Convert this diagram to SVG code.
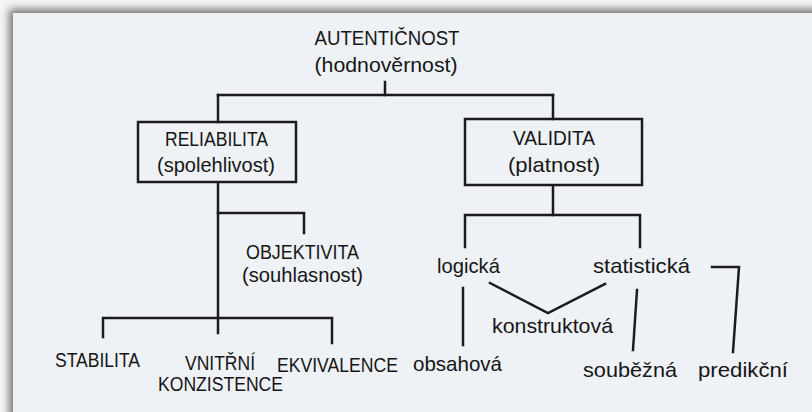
<svg xmlns="http://www.w3.org/2000/svg" width="812" height="412" viewBox="0 0 812 412">
<defs>
<filter id="sh" x="-10%" y="-10%" width="120%" height="120%"><feGaussianBlur stdDeviation="4"/></filter>
<style>
.t{font-family:"Liberation Sans",Arial,sans-serif;fill:#161616}
.c{font-size:19.5px}
.l{font-size:21px}
.m{text-anchor:middle}
.ln{fill:none;stroke:#1c1c1c;stroke-width:2.5;stroke-linecap:square;stroke-linejoin:miter}
.box{fill:none;stroke:#1c1c1c;stroke-width:2.5}
</style>
</defs>
<rect x="0" y="0" width="812" height="412" fill="#f6f6f6"/>
<rect x="9" y="9" width="820" height="420" fill="#555" opacity="0.8" filter="url(#sh)"/>
<rect x="13" y="13" width="810" height="410" fill="#eef1f5"/>
<g id="connectors">
<path class="ln" d="M385,82 V95"/>
<path class="ln" d="M218,95 H553"/>
<path class="ln" d="M218,95 V122"/>
<path class="ln" d="M553,95 V119"/>
<path class="ln" d="M218,183 V333"/>
<path class="ln" d="M218,213 H304 V233"/>
<path class="ln" d="M103,337 V318 H332 V343"/>
<path class="ln" d="M553,186 V215"/>
<path class="ln" d="M465,247 V215 H640 V247"/>
<path class="ln" d="M463,288 V345"/>
<path class="ln" d="M490,283 L548,313 L605,284"/>
<path class="ln" d="M637,290 L633,350"/>
<path class="ln" d="M712,267 H739 L733,352"/>
</g>
<g id="autenticnost">
<text class="t c m" x="387" y="45" textLength="145" lengthAdjust="spacingAndGlyphs">AUTENTIČNOST</text>
<text class="t l m" x="386" y="72" textLength="143" lengthAdjust="spacingAndGlyphs">(hodnověrnost)</text>
</g>
<g id="reliabilita">
<rect class="box" x="138" y="122" width="158" height="60"/>
<text class="t c m" x="216.5" y="146" textLength="103" lengthAdjust="spacingAndGlyphs">RELIABILITA</text>
<text class="t l m" x="216" y="172" textLength="118" lengthAdjust="spacingAndGlyphs">(spolehlivost)</text>
</g>
<g id="validita">
<rect class="box" x="465" y="119" width="177" height="66"/>
<text class="t c m" x="554" y="145" textLength="82" lengthAdjust="spacingAndGlyphs">VALIDITA</text>
<text class="t l m" x="554" y="172" textLength="92" lengthAdjust="spacingAndGlyphs">(platnost)</text>
</g>
<g id="objektivita">
<text class="t c m" x="302.5" y="259" textLength="113" lengthAdjust="spacingAndGlyphs">OBJEKTIVITA</text>
<text class="t l m" x="302.5" y="282" textLength="121" lengthAdjust="spacingAndGlyphs">(souhlasnost)</text>
</g>
<g id="stabilita"><text class="t c" x="55" y="367" textLength="85" lengthAdjust="spacingAndGlyphs">STABILITA</text></g>
<g id="vnitrni">
<text class="t c" x="185" y="370" textLength="70" lengthAdjust="spacingAndGlyphs">VNITŘNÍ</text>
<text class="t c" x="158" y="391" textLength="125" lengthAdjust="spacingAndGlyphs">KONZISTENCE</text>
</g>
<g id="ekvivalence"><text class="t c" x="277" y="372" textLength="121" lengthAdjust="spacingAndGlyphs">EKVIVALENCE</text></g>
<g id="logicka"><text class="t l" x="437" y="273" textLength="63" lengthAdjust="spacingAndGlyphs">logická</text></g>
<g id="statisticka"><text class="t l" x="593" y="273" textLength="97" lengthAdjust="spacingAndGlyphs">statistická</text></g>
<g id="konstruktova"><text class="t l" x="492" y="333" textLength="121" lengthAdjust="spacingAndGlyphs">konstruktová</text></g>
<g id="obsahova"><text class="t l" x="413" y="371" textLength="89" lengthAdjust="spacingAndGlyphs">obsahová</text></g>
<g id="soubezna"><text class="t l" x="583" y="377" textLength="94" lengthAdjust="spacingAndGlyphs">souběžná</text></g>
<g id="predikcni"><text class="t l" x="698" y="377" textLength="90" lengthAdjust="spacingAndGlyphs">predikční</text></g>
</svg>
